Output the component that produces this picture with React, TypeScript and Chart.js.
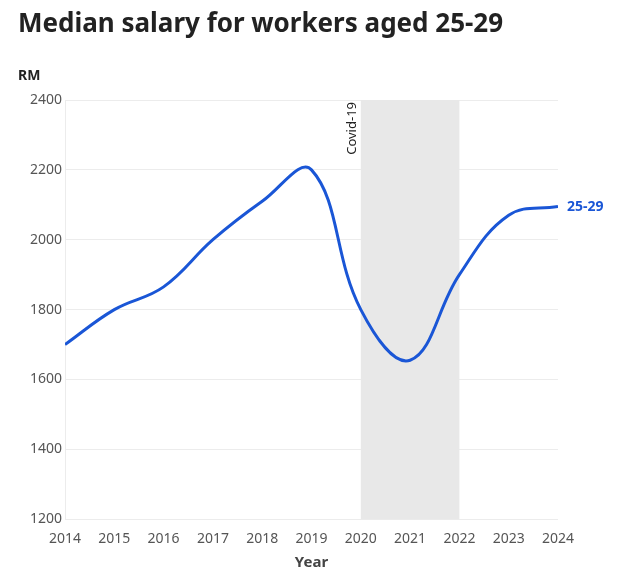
import React, { useEffect, useRef } from "react";
import { Chart, registerables } from "chart.js";
Chart.register(...registerables);

const years = [2014, 2015, 2016, 2017, 2018, 2019, 2020, 2021, 2022, 2023, 2024];
const salary = [1700, 1800, 1865, 2000, 2110, 2200, 1800, 1655, 1900, 2070, 2095];
const seriesLabel = "25-29";
const bandStart = 2020;
const bandEnd = 2022;
const bandLabel = "Covid-19";
const FONT = "'Noto Sans', sans-serif";
const BLUE = "#1a56d6";

const extras = {
  id: "extras",
  beforeDatasetsDraw(chart: any) {
    const { ctx, chartArea, scales } = chart;
    const x0 = scales.x.getPixelForValue(bandStart);
    const x1 = scales.x.getPixelForValue(bandEnd);
    ctx.save();
    ctx.fillStyle = "#e8e8e8";
    ctx.fillRect(x0, chartArea.top, x1 - x0, chartArea.bottom - chartArea.top);
    ctx.translate(x0 - 9, chartArea.top + 2);
    ctx.rotate(-Math.PI / 2);
    ctx.fillStyle = "#222";
    ctx.font = `13px ${FONT}`;
    ctx.textAlign = "right";
    ctx.textBaseline = "middle";
    ctx.fillText(bandLabel, 0, 0);
    ctx.restore();
  },
  afterDatasetsDraw(chart: any) {
    const { ctx, scales } = chart;
    const lx = scales.x.getPixelForValue(years[years.length - 1]);
    const ly = scales.y.getPixelForValue(salary[salary.length - 1]);
    ctx.save();
    ctx.fillStyle = BLUE;
    ctx.font = `bold 14px ${FONT}`;
    ctx.textBaseline = "middle";
    ctx.fillText(seriesLabel, lx + 9, ly);
    ctx.fillStyle = "#222";
    ctx.font = `bold 26px ${FONT}`;
    ctx.textBaseline = "alphabetic";
    ctx.fillText("Median salary for workers aged 25-29", 18, 32);
    ctx.font = `bold 14px ${FONT}`;
    ctx.fillText("RM", 18, 80);
    ctx.restore();
  },
};

export default function App() {
  const ref = useRef<HTMLCanvasElement>(null);
  useEffect(() => {
    document.body.style.margin = "0";
    const chart = new Chart(ref.current!, {
      type: "line",
      data: {
        datasets: [
          {
            data: years.map((y, i) => ({ x: y, y: salary[i] })),
            borderColor: BLUE,
            borderWidth: 3,
            pointRadius: 0,
            tension: 0.4,
            fill: false,
          },
        ],
      },
      options: {
        animation: false,
        responsive: false,
        layout: { padding: { top: 100, left: 10, right: 67, bottom: 8 } },
        plugins: { legend: { display: false }, tooltip: { enabled: false } },
        scales: {
          x: {
            type: "linear",
            min: 2014,
            max: 2024,
            ticks: { stepSize: 1, color: "#555", font: { family: FONT, size: 14 }, callback: (v: any) => String(v) },
            grid: { display: false },
            border: { display: false },
            title: { display: true, text: "Year", color: "#444", font: { family: FONT, size: 15, weight: "bold" } },
          },
          y: {
            min: 1200,
            max: 2400,
            ticks: { stepSize: 200, color: "#555", font: { family: FONT, size: 14 }, callback: (v: any) => String(v) },
            grid: { color: "#ececec", drawTicks: false },
            border: { display: true, color: "#ececec" },
            afterFit: (s: any) => { s.width = 55; },
          },
        },
      },
      plugins: [extras],
    });
    return () => chart.destroy();
  }, []);
  return <canvas ref={ref} width={625} height={584} style={{ display: "block" }} />;
}
